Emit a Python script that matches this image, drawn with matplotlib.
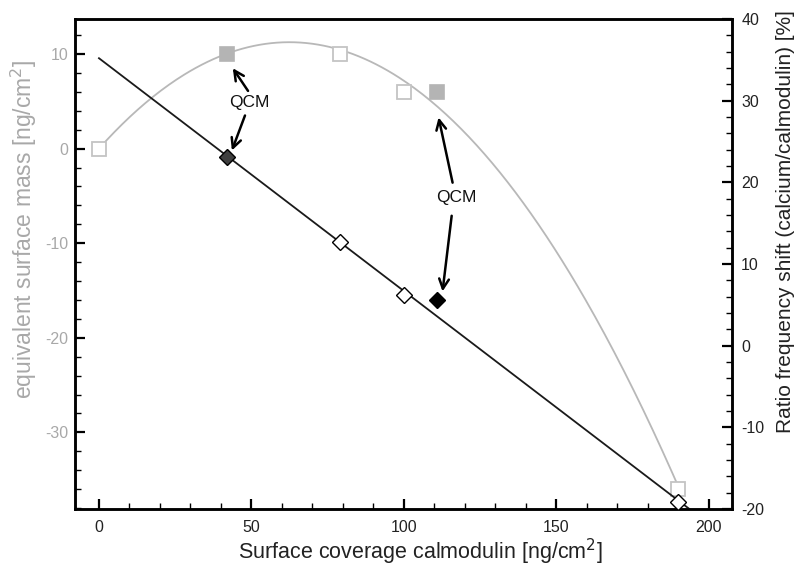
import numpy as np
import matplotlib
matplotlib.use("Agg")
import matplotlib.pyplot as plt
from matplotlib.ticker import MultipleLocator

plt.rcParams['font.family'] = ['Liberation Sans', 'DejaVu Sans']
plt.rcParams['axes.unicode_minus'] = False

# ---- data ----
mass_x = [0, 42, 79, 100, 111, 190]
mass_y = [0, 10, 10, 6, 6, -36]
mass_filled = [False, True, False, False, True, False]

ratio_x = [42, 79, 100, 111, 190]
ratio_y = [23.1, 12.7, 6.2, 5.6, -19.2]
ratio_face = ['#3f3f3f', 'white', 'white', 'black', 'white']

# trend curves
mass_fit = [-0.002885, 0.3603, 0.0]   # quadratic, x in [0, 190]
mass_fit_range = [0, 190]
ratio_fit = [-0.285, 35.2]            # linear, x in [0, 200]
ratio_fit_range = [0, 200]

# annotations (left-axis data coords)
qcm_text = [(49.2, 4.9), (117.3, -5.2)]
qcm_arrows = [((48.9, 6.1), (43.9, 8.5)), ((47.9, 3.5), (43.6, -0.2)),
              ((116.0, -3.6), (111.4, 3.3)), ((115.7, -7.1), (112.7, -15.1))]

GRAY = '#b8b8b8'
GRAY_TXT = '#a8a8a8'

fig = plt.figure(figsize=(7.98, 5.66), dpi=100)
ax = fig.add_axes([0.0946, 0.1007, 0.8221, 0.8657])
ax2 = ax.twinx()

# gray curve + squares (left axis)
xc = np.linspace(mass_fit_range[0], mass_fit_range[1], 300)
ax.plot(xc, np.polyval(mass_fit, xc), color=GRAY, lw=1.3, zorder=2)
for x, y, f in zip(mass_x, mass_y, mass_filled):
    if f:
        ax.plot(x, y, 's', ms=9.5, mfc='#b4b4b4', mec='#b4b4b4', mew=1.2, zorder=3)
    else:
        ax.plot(x, y, 's', ms=9.5, mfc='white', mec='#c4c4c4', mew=1.3, zorder=3)

# black line + diamonds (right axis)
xl = np.linspace(ratio_fit_range[0], ratio_fit_range[1], 10)
ax2.plot(xl, np.polyval(ratio_fit, xl), color='#1a1a1a', lw=1.3, zorder=2)
for x, y, fc in zip(ratio_x, ratio_y, ratio_face):
    ax2.plot(x, y, 'D', ms=8, mfc=fc, mec='black', mew=1.0, zorder=3)

ax.set_xlim(-7.7, 207.5)
ax.set_ylim(-38.1, 13.7)
ax2.set_ylim(-20, 40)

ax.xaxis.set_major_locator(MultipleLocator(50))
ax.xaxis.set_minor_locator(MultipleLocator(10))
ax.yaxis.set_major_locator(MultipleLocator(10))
ax.yaxis.set_minor_locator(MultipleLocator(2))
ax2.yaxis.set_major_locator(MultipleLocator(10))
ax2.yaxis.set_minor_locator(MultipleLocator(2))

for a in (ax, ax2):
    for s in a.spines.values():
        s.set_linewidth(1.8)
        s.set_color('black')
ax.tick_params(axis='both', which='major', direction='in', length=7, width=1.6,
               labelsize=11.5)
ax.tick_params(axis='both', which='minor', direction='in', length=4, width=1.0)
ax.tick_params(axis='x', which='major', pad=8, labelcolor='#222222')
ax.tick_params(axis='y', which='both', labelcolor=GRAY_TXT)
ax.tick_params(axis='y', which='major', pad=5)
ax2.tick_params(axis='y', which='major', direction='in', length=7, width=1.6,
                labelsize=11.5, pad=7, labelcolor='#222222')
ax2.tick_params(axis='y', which='minor', direction='in', length=4, width=1.0)

ax.set_xlabel('Surface coverage calmodulin [ng/cm$^2$]', fontsize=15.5, color='#222222')
ax.set_ylabel('equivalent surface mass [ng/cm$^2$]', fontsize=16.5, color=GRAY_TXT)
ax2.set_ylabel('Ratio frequency shift (calcium/calmodulin) [%]', fontsize=15,
               color='#222222')
ax.xaxis.set_label_coords(0.525, -0.056)
ax.yaxis.set_label_coords(-0.056, 0.57)
ax2.yaxis.set_label_coords(1.068, 0.586)

for (tx, ty) in qcm_text:
    ax.text(tx, ty, 'QCM', fontsize=12.5, ha='center', va='center', color='#111111',
            zorder=5)
for (tail, tip) in qcm_arrows:
    ax.annotate('', xy=tip, xytext=tail,
                arrowprops=dict(arrowstyle='->,head_length=0.7,head_width=0.35',
                                lw=1.8, color='black', shrinkA=0, shrinkB=0),
                zorder=5)

fig.savefig('out.png', dpi=100)
